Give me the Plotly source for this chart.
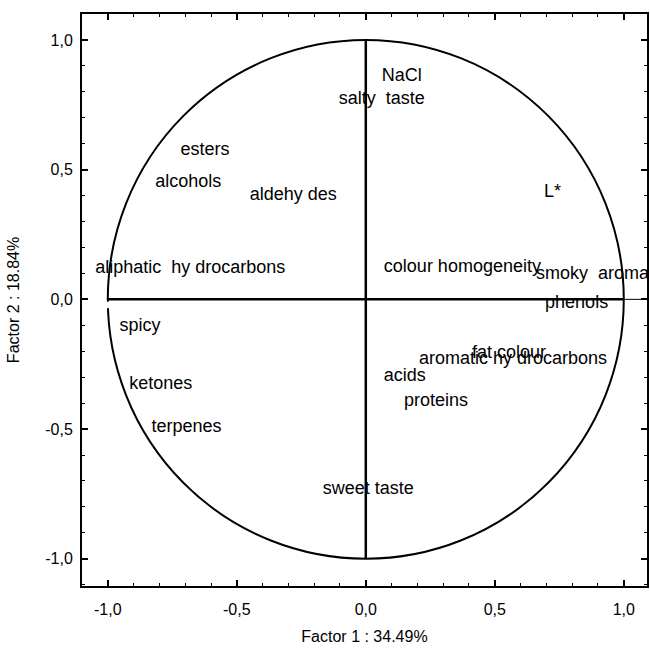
import plotly.graph_objects as go

# Variable coordinates (label anchors) on Factor 1 / Factor 2
labels = ["NaCl", "salty  taste", "esters", "alcohols", "aldehy des",
          "aliphatic  hy drocarbons", "L*", "colour homogeneity", "smoky  aroma",
          "phenols", "spicy", "ketones", "terpenes", "sweet taste",
          "fat colour", "aromatic hy drocarbons", "acids", "proteins"]
factor1 = [0.062, -0.105, -0.718, -0.816, -0.450,
           -1.049, 0.691, 0.070, 0.660,
           0.695, -0.955, -0.917, -0.831, -0.167,
           0.412, 0.206, 0.070, 0.148]
factor2 = [0.858, 0.770, 0.574, 0.451, 0.401,
           0.119, 0.412, 0.123, 0.096,
           -0.016, -0.104, -0.328, -0.493, -0.732,
           -0.208, -0.231, -0.297, -0.393]

tick_vals = [-1.0, -0.5, 0.0, 0.5, 1.0]
tick_text = ["-1,0", "-0,5", "0,0", "0,5", "1,0"]
x_title = "Factor 1 : 34.49%"
y_title = "Factor 2 : 18.84%"

FONT = "Liberation Sans, Arial, sans-serif"

fig = go.Figure()
fig.add_trace(go.Scatter(
    x=factor1, y=factor2, mode="text", text=labels,
    textposition="middle right",
    textfont=dict(family=FONT, size=18, color="black"),
    cliponaxis=True, hoverinfo="skip", showlegend=False))

shapes = [
    dict(type="circle", xref="x", yref="y", x0=-1, y0=-1, x1=1, y1=1,
         line=dict(color="black", width=2)),
    # small gap in the circle just below the horizontal axis at the left
    dict(type="rect", xref="x", yref="y", x0=-1.02, x1=-0.98, y0=-0.034, y1=-0.009,
         fillcolor="white", line=dict(width=0)),
    dict(type="line", xref="x", yref="y", x0=-1, y0=0, x1=1, y1=0,
         line=dict(color="black", width=2.5)),
    dict(type="line", xref="x", yref="y", x0=1, y0=0, x1=1.2, y1=0,
         line=dict(color="black", width=1)),
    dict(type="line", xref="x", yref="y", x0=0, y0=-1, x1=0, y1=1,
         line=dict(color="black", width=2.5)),
]

axis_common = dict(
    showgrid=False, zeroline=False, showline=True, linecolor="black",
    linewidth=2, mirror="ticks", ticks="inside", ticklen=6, tickwidth=1.5,
    tickcolor="black", tickvals=tick_vals, ticktext=tick_text,
    tickfont=dict(family=FONT, size=16, color="black"),
    automargin=False,
    minor=dict(ticks="inside", ticklen=3, tickwidth=1, tickcolor="black",
               dtick=0.1, tick0=0, showgrid=False),
)

fig.update_layout(
    width=650, height=654,
    margin=dict(l=82, r=3, t=14, b=68),
    paper_bgcolor="white", plot_bgcolor="white",
    shapes=shapes,
    xaxis=dict(range=[-1.1, 1.09], ticklabelstandoff=8,
               title=dict(text=x_title, standoff=14,
                          font=dict(family=FONT, size=16, color="black")),
               **axis_common),
    yaxis=dict(range=[-1.105, 1.1], ticklabelstandoff=4,
               title=dict(text=y_title, standoff=22,
                          font=dict(family=FONT, size=16, color="black")),
               **axis_common),
)

# remove the default page margin so the 650x654 figure fills the window exactly
fig.write_html("out.html",
               config={"displayModeBar": False},
               post_script="document.body.style.margin='0';document.body.style.overflow='hidden';")
